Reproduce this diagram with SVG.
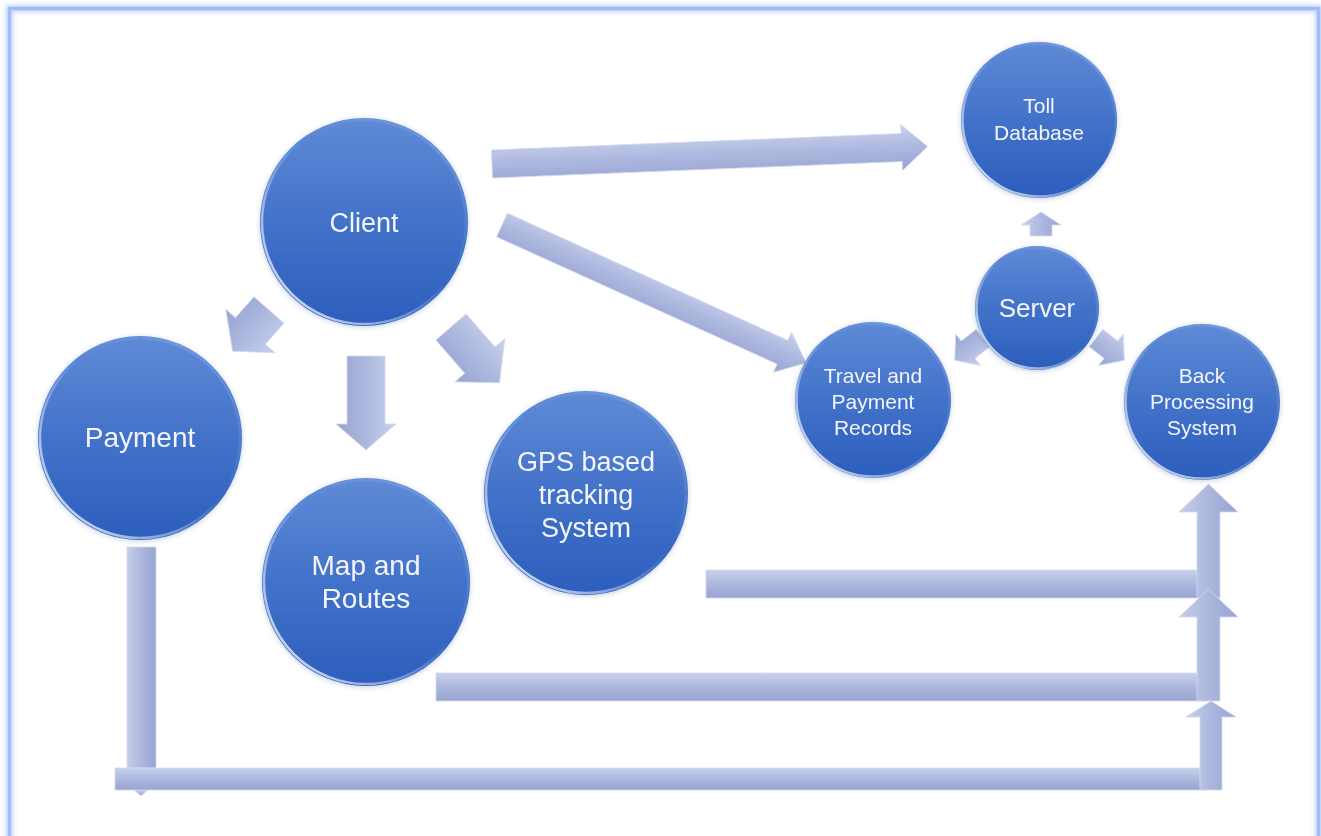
<svg xmlns="http://www.w3.org/2000/svg" width="1321" height="836" viewBox="0 0 1321 836">
<defs>
<linearGradient id="nodeFill" x1="0" y1="0" x2="0" y2="1">
<stop offset="0" stop-color="#5f8ad7"/>
<stop offset="0.5" stop-color="#4272c9"/>
<stop offset="1" stop-color="#2c5ebd"/>
</linearGradient>
<linearGradient id="rim" x1="0" y1="1" x2="1" y2="0">
<stop offset="0" stop-color="#ffffff" stop-opacity="0.95"/>
<stop offset="0.35" stop-color="#ffffff" stop-opacity="0.35"/>
<stop offset="0.55" stop-color="#ffffff" stop-opacity="0"/>
<stop offset="0.85" stop-color="#dfe8ff" stop-opacity="0.15"/>
<stop offset="1" stop-color="#dfe8ff" stop-opacity="0.6"/>
</linearGradient>
<linearGradient id="arrV" x1="0" y1="0" x2="0" y2="1">
<stop offset="0" stop-color="#c8d0ea"/>
<stop offset="0.5" stop-color="#adb8df"/>
<stop offset="1" stop-color="#97a4d1"/>
</linearGradient>
<linearGradient id="arrH" x1="0" y1="0" x2="1" y2="0">
<stop offset="0" stop-color="#c6cee9"/>
<stop offset="0.5" stop-color="#acb7de"/>
<stop offset="1" stop-color="#97a4d1"/>
</linearGradient>
<filter id="shadow" x="-20%" y="-20%" width="140%" height="140%">
<feDropShadow dx="0" dy="1" stdDeviation="2.5" flood-color="#1d3f80" flood-opacity="0.25"/>
</filter>
<filter id="glow" x="-5%" y="-5%" width="110%" height="110%">
<feGaussianBlur stdDeviation="2.5"/>
</filter>
</defs>
<style>
.node circle.body{fill:url(#nodeFill);}
.node circle.rim{fill:none;stroke:url(#rim);stroke-width:2.5;}
.node text{font-family:"Liberation Sans",Arial,sans-serif;fill:#f3f5fb;text-anchor:middle;}
.arr{fill:url(#arrV);stroke:#d3daf0;stroke-width:0.8;}
.arrh{fill:url(#arrH);stroke:#d3daf0;stroke-width:0.8;}
</style>
<rect width="1321" height="836" fill="#ffffff"/>
<rect x="9.5" y="8.5" width="1309" height="840" fill="none" stroke="#a9c4f5" stroke-width="7" filter="url(#glow)" opacity="0.7"/>
<rect x="9.5" y="8.5" width="1309" height="840" fill="none" stroke="#9fbdf4" stroke-width="3.5"/>

<g id="connectors">
<g id="c-client-toll"><polygon class="arr" transform="translate(492,164) rotate(-2.3)" points="0,-14 410,-14 410,-23 436,0 410,23 410,14 0,14"/></g>
<g id="c-client-travel"><polygon class="arr" transform="translate(502,225) rotate(24.4)" points="0,-13 308,-13 308,-22 334,0 308,22 308,13 0,13"/></g>
<g id="c-client-payment"><polygon class="arr" transform="translate(269,310) rotate(131.5)" points="0,-20 28,-20 28,-33 55,0 28,33 28,20 0,20"/></g>
<g id="c-client-map"><polygon class="arr" transform="translate(366,356) rotate(90)" points="0,-19 68,-19 68,-30 94,0 68,30 68,19 0,19"/></g>
<g id="c-client-gps"><polygon class="arr" transform="translate(451,327) rotate(49)" points="0,-20 44,-20 44,-33 74,0 44,33 44,20 0,20"/></g>
<g id="c-server-toll"><polygon class="arr" transform="translate(1041,236) rotate(-90)" points="0,-11 11,-11 11,-20 24,0 11,20 11,11 0,11"/></g>
<g id="c-server-travel"><polygon class="arr" transform="translate(983,338) rotate(141.8)" points="0,-11 19,-11 19,-20 36,0 19,20 19,11 0,11"/></g>
<g id="c-server-back"><polygon class="arr" transform="translate(1096,338) rotate(38.2)" points="0,-11 19,-11 19,-20 36,0 19,20 19,11 0,11"/></g>
<g id="c-gps-back">
<rect class="arr" x="706" y="570" width="500" height="28"/>
<polygon class="arrh" points="1197,598 1197,512 1179,512 1208.5,484 1238,512 1220,512 1220,598"/>
</g>
<g id="c-map-back">
<rect class="arr" x="436" y="673" width="770" height="28"/>
<polygon class="arrh" points="1197,701 1197,617 1179,617 1208.5,589 1238,617 1220,617 1220,701"/>
</g>
<g id="c-payment-back">
<rect class="arrh" x="127" y="547" width="29" height="221"/>
<polygon class="arr" points="134,790 148,790 141,796"/>
<rect class="arr" x="115" y="768" width="1092" height="22"/>
<polygon class="arrh" points="1200,790 1200,717 1186,717 1211,701 1236,717 1222,717 1222,790"/>
</g>
</g>

<g id="node-client" class="node" filter="url(#shadow)">
<circle class="body" cx="364" cy="222" r="104"/>
<circle class="rim" cx="364" cy="222" r="102"/>
<text x="364" y="232" font-size="27">Client</text>
</g>
<g id="node-payment" class="node" filter="url(#shadow)">
<circle class="body" cx="140" cy="438" r="102"/>
<circle class="rim" cx="140" cy="438" r="100"/>
<text x="140" y="447" font-size="28">Payment</text>
</g>
<g id="node-map" class="node" filter="url(#shadow)">
<circle class="body" cx="366" cy="582" r="104"/>
<circle class="rim" cx="366" cy="582" r="102"/>
<text x="366" y="575" font-size="28">Map and</text>
<text x="366" y="608" font-size="28">Routes</text>
</g>
<g id="node-gps" class="node" filter="url(#shadow)">
<circle class="body" cx="586" cy="493" r="102"/>
<circle class="rim" cx="586" cy="493" r="100"/>
<text x="586" y="471" font-size="27">GPS based</text>
<text x="586" y="504" font-size="27">tracking</text>
<text x="586" y="537" font-size="27">System</text>
</g>
<g id="node-toll" class="node" filter="url(#shadow)">
<circle class="body" cx="1039" cy="120" r="78"/>
<circle class="rim" cx="1039" cy="120" r="76.5"/>
<text x="1039" y="113" font-size="21">Toll</text>
<text x="1039" y="140" font-size="21">Database</text>
</g>
<g id="node-server" class="node" filter="url(#shadow)">
<circle class="body" cx="1037" cy="308" r="62"/>
<circle class="rim" cx="1037" cy="308" r="60.5"/>
<text x="1037" y="317" font-size="26">Server</text>
</g>
<g id="node-travel" class="node" filter="url(#shadow)">
<circle class="body" cx="873" cy="400" r="78"/>
<circle class="rim" cx="873" cy="400" r="76.5"/>
<text x="873" y="383" font-size="21">Travel and</text>
<text x="873" y="409" font-size="21">Payment</text>
<text x="873" y="435" font-size="21">Records</text>
</g>
<g id="node-back" class="node" filter="url(#shadow)">
<circle class="body" cx="1202" cy="402" r="78"/>
<circle class="rim" cx="1202" cy="402" r="76.5"/>
<text x="1202" y="383" font-size="21">Back</text>
<text x="1202" y="409" font-size="21">Processing</text>
<text x="1202" y="435" font-size="21">System</text>
</g>
</svg>
